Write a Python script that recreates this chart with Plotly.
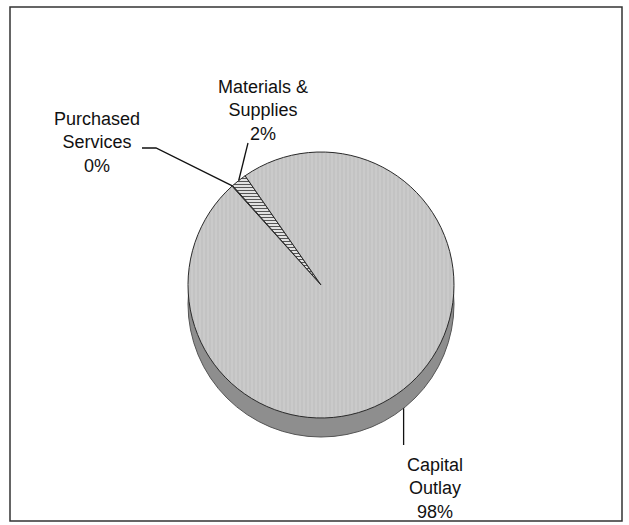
import math
import plotly.graph_objects as go

# data
categories = ["Purchased Services", "Materials & Supplies", "Capital Outlay"]
values = [1, 19, 980]
colors = ["#3a3a3a", "#ffffff", "#cacaca"]

W, H = 629, 525
cx, cy, r = 321, 285, 133      # pie centre / radius in px
depth = 19                      # fake 3d side
start = 318                     # first slice start, degrees clockwise from 12

total = sum(values)
pct = [f"{round(100 * v / total)}%" for v in values]


def px(x):
    return x / W


def py(y):
    return 1 - y / H


def edge(frac_mid, dy=0):
    # point on pie rim for a fraction of the full circle
    a = math.radians(start + 360 * frac_mid)
    return cx + r * math.sin(a), cy - r * math.cos(a) + dy


# slice mid fractions
mids = []
acc = 0
for v in values:
    mids.append((acc + v / 2) / total)
    acc += v

fig = go.Figure()
fig.add_trace(go.Pie(
    labels=categories,
    values=values,
    sort=False,
    direction="clockwise",
    rotation=start,
    textinfo="none",
    hoverinfo="skip",
    showlegend=False,
    marker=dict(
        colors=colors,
        line=dict(color="#2a2a2a", width=1),
        pattern=dict(shape=["", "-", "|"],
                     bgcolor=colors,
                     fgcolor=["#3a3a3a", "#555555", "#bdbdbd"],
                     size=[4, 3, 4], solidity=[0.2, 0.45, 0.25]),
    ),
    domain=dict(x=[px(cx - r), px(cx + r)], y=[py(cy + r), py(cy - r)]),
))

shapes = [
    # frame
    dict(type="rect", xref="paper", yref="paper", x0=px(10), x1=px(622), y0=py(521), y1=py(7),
         line=dict(color="#333333", width=1.5)),
    # side of the pie
    dict(type="circle", xref="paper", yref="paper", layer="below",
         x0=px(cx - r), x1=px(cx + r), y0=py(cy + r + depth), y1=py(cy - r + depth),
         fillcolor="#8e8e8e", line=dict(color="#555555", width=1)),
]

# leader lines
ps_x, ps_y = edge(mids[0])
shapes.append(dict(type="path", xref="paper", yref="paper",
                   path=f"M {px(142)},{py(148)} L {px(156)},{py(148)} L {px(ps_x)},{py(ps_y)}",
                   line=dict(color="#111111", width=1.3)))
ms_x, ms_y = edge(mids[1])
shapes.append(dict(type="line", xref="paper", yref="paper",
                   x0=px(248), y0=py(143), x1=px(ms_x), y1=py(ms_y),
                   line=dict(color="#111111", width=1.3)))
co_x, co_y = edge(mids[2], depth)
shapes.append(dict(type="line", xref="paper", yref="paper",
                   x0=px(co_x), y0=py(co_y), x1=px(co_x), y1=py(445),
                   line=dict(color="#111111", width=1.3)))

font = dict(family="Liberation Sans, Arial, sans-serif", size=18, color="#111111")
label_text = [
    f"Purchased<br>Services<br>{pct[0]}",
    f"Materials &<br>Supplies<br>{pct[1]}",
    f"Capital<br>Outlay<br>{pct[2]}",
]
label_pos = [(97, 142), (263, 111), (435, 488)]
annotations = []
for t, (x, y) in zip(label_text, label_pos):
    annotations.append(dict(text=t, x=px(x), y=py(y), xref="paper", yref="paper",
                            showarrow=False, align="center", xanchor="center",
                            yanchor="middle", font=font))

fig.update_layout(
    width=W, height=H,
    margin=dict(l=0, r=0, t=0, b=0),
    paper_bgcolor="white",
    plot_bgcolor="white",
    shapes=shapes,
    annotations=annotations,
)

# page body has a default margin, drop it so the figure sits at 0,0
fig.write_html("out.html", config={"displayModeBar": False},
               post_script="document.body.style.margin='0';")
